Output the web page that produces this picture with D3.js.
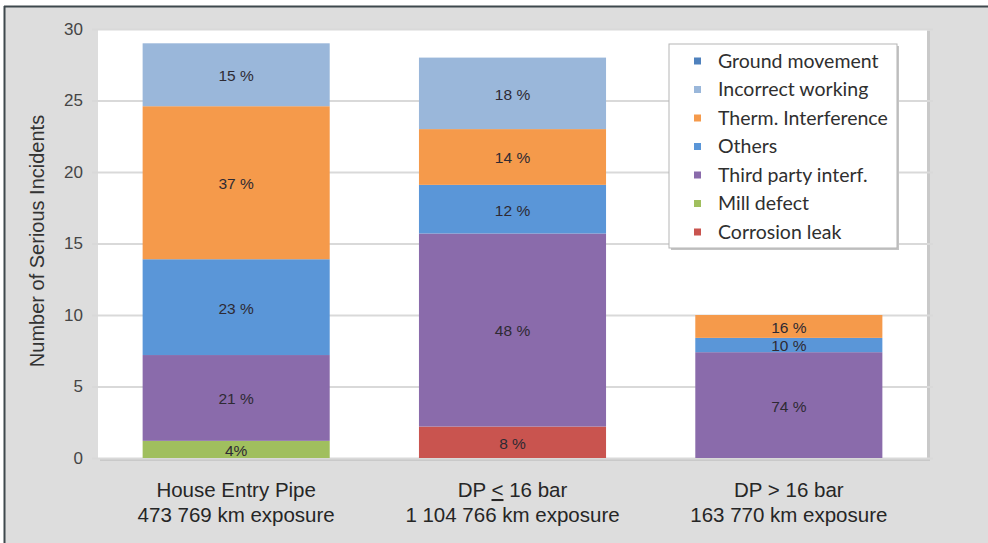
<!DOCTYPE html>
<html>
<head>
<meta charset="utf-8">
<script src="https://cdn.jsdelivr.net/npm/d3@7"></script>
<style>
  html, body { margin: 0; padding: 0; background: #ffffff; }
  svg { display: block; }
</style>
</head>
<body>
<svg id="chart" width="988" height="543"></svg>
<script>
// Pipe categories (two-line labels)
const categories = ["House Entry Pipe", "DP < 16 bar", "DP > 16 bar"];
const exposures = ["473 769 km exposure", "1 104 766 km exposure", "163 770 km exposure"];

// Incident causes, stacked from the bottom up
const causes = ["Corrosion leak", "Mill defect", "Third party interf.", "Others",
                "Therm. Interference", "Incorrect working", "Ground movement"];

// Number of serious incidents per cause, one value per category
const corrosionLeak     = [0,    2.2,  0];
const millDefect        = [1.2,  0,    0];
const thirdParty        = [6.0,  13.5, 7.4];
const others            = [6.7,  3.4,  1.0];
const thermInterference = [10.7, 3.9,  1.6];
const incorrectWorking  = [4.4,  5.0,  0];
const groundMovement    = [0,    0,    0];

// Share labels printed inside each segment
const corrosionLabels = [null, "8 %", null];
const millLabels      = ["4%", null, null];
const thirdLabels     = ["21 %", "48 %", "74 %"];
const othersLabels    = ["23 %", "12 %", "10 %"];
const thermLabels     = ["37 %", "14 %", "16 %"];
const incorrectLabels = ["15 %", "18 %", null];
const groundLabels    = [null, null, null];

const yTicks = [0, 5, 10, 15, 20, 25, 30];

const seriesValues = [corrosionLeak, millDefect, thirdParty, others,
                      thermInterference, incorrectWorking, groundMovement];
const seriesLabels = [corrosionLabels, millLabels, thirdLabels, othersLabels,
                      thermLabels, incorrectLabels, groundLabels];
const colors = ["#c9544f", "#a0bf5e", "#8a6bab", "#5a96d8", "#f59a4b", "#9ab7da", "#4f81bd"];

const svg = d3.select("#chart");
const W = 988, H = 543;
const plot = { left: 98, right: 927, top: 29, bottom: 458 };
const sans = "Liberation Sans, Arial, sans-serif";

// Frame: light grey panel with a dark top/left rule
svg.append("rect").attr("x", 0).attr("y", 0).attr("width", W).attr("height", H).attr("fill", "#ffffff");
svg.append("rect").attr("x", 5).attr("y", 7).attr("width", W - 5).attr("height", H - 7).attr("fill", "#dddddd");
svg.append("line").attr("x1", 4).attr("x2", W).attr("y1", 6.5).attr("y2", 6.5)
  .attr("stroke", "#3e484d").attr("stroke-width", 2);
svg.append("line").attr("x1", 4.5).attr("x2", 4.5).attr("y1", 6).attr("y2", H)
  .attr("stroke", "#3e484d").attr("stroke-width", 2);

// Plot area with a soft shadow
svg.append("rect").attr("x", plot.left + 2).attr("y", plot.top + 2)
  .attr("width", plot.right - plot.left + 1).attr("height", plot.bottom - plot.top + 1)
  .attr("fill", "#c9c9c9");
svg.append("rect").attr("x", plot.left).attr("y", plot.top)
  .attr("width", plot.right - plot.left).attr("height", plot.bottom - plot.top)
  .attr("fill", "#ffffff");

const x = d3.scaleBand().domain(d3.range(categories.length))
  .range([plot.left, plot.right]).paddingInner(0.323).paddingOuter(0.1615);
const y = d3.scaleLinear().domain([0, 30]).range([plot.bottom, plot.top]);

// Gridlines and y axis
const yAxis = d3.axisLeft(y).tickValues(yTicks).tickSize(-(plot.right - plot.left) - 6).tickPadding(8);
const gy = svg.append("g").attr("transform", `translate(${plot.left},0)`).call(yAxis);
gy.select(".domain").remove();
gy.selectAll(".tick line").attr("stroke", "#d9d9d9").attr("stroke-width", 2)
  .attr("x1", -6);
gy.selectAll(".tick text").attr("x", -15)
  .attr("fill", "#454545").attr("font-family", sans).attr("font-size", 17);

// Stacked bars
const rows = categories.map((c, i) => {
  const r = { idx: i };
  causes.forEach((k, j) => { r[k] = seriesValues[j][i]; });
  return r;
});
const stacked = d3.stack().keys(causes)(rows);

const layers = svg.append("g").selectAll("g").data(stacked).join("g")
  .attr("fill", (d, j) => colors[j]);
layers.selectAll("rect").data(d => d.filter(s => s[1] - s[0] > 0)).join("rect")
  .attr("x", d => x(d.data.idx))
  .attr("width", x.bandwidth())
  .attr("y", d => y(d[1]))
  .attr("height", d => y(d[0]) - y(d[1]));

// Segment share labels
const labelG = svg.append("g")
  .attr("font-family", sans).attr("font-size", 15.5)
  .attr("text-anchor", "middle").attr("fill", "#2e2a33");
stacked.forEach((layer, j) => {
  layer.forEach((seg, i) => {
    const txt = seriesLabels[j][i];
    if (!txt || seg[1] - seg[0] <= 0) return;
    labelG.append("text")
      .attr("x", x(i) + x.bandwidth() / 2)
      .attr("y", y((seg[0] + seg[1]) / 2) + 1)
      .attr("dy", "0.35em")
      .text(txt);
  });
});

// Category labels below the axis
const xl = svg.append("g")
  .attr("font-family", sans).attr("font-size", 20.5)
  .attr("text-anchor", "middle").attr("fill", "#262626");
categories.forEach((c, i) => {
  const cx = x(i) + x.bandwidth() / 2;
  const t = xl.append("text").attr("x", cx).attr("y", 497);
  if (c.includes("<")) {
    const parts = c.split("<");
    t.append("tspan").text(parts[0]);
    t.append("tspan").attr("text-decoration", "underline").text("<");
    t.append("tspan").text(parts[1]);
  } else {
    t.text(c);
  }
  xl.append("text").attr("x", cx).attr("y", 522).text(exposures[i]);
});

// Y axis title
svg.append("text")
  .attr("transform", `translate(44,241) rotate(-90)`)
  .attr("text-anchor", "middle")
  .attr("font-family", sans).attr("font-size", 20)
  .attr("fill", "#333333")
  .text("Number of Serious Incidents");

// Legend (top entry = top of stack)
const lg = { x: 669, y: 44, w: 228, h: 204 };
svg.append("rect").attr("x", lg.x + 2).attr("y", lg.y + 2).attr("width", lg.w).attr("height", lg.h)
  .attr("fill", "#c4c4c4");
svg.append("rect").attr("x", lg.x).attr("y", lg.y).attr("width", lg.w).attr("height", lg.h)
  .attr("fill", "#ffffff").attr("stroke", "#b5b5b5").attr("stroke-width", 1);
const legendOrder = d3.range(causes.length).reverse();
const ly = d3.scalePoint().domain(legendOrder).range([lg.y + 17, lg.y + 188]);
const items = svg.append("g").selectAll("g").data(legendOrder).join("g")
  .attr("transform", j => `translate(${lg.x},${ly(j)})`);
items.append("rect").attr("x", 25).attr("y", -3.5).attr("width", 7).attr("height", 7)
  .attr("fill", j => colors[j]);
items.append("text").attr("x", 49).attr("dy", "0.35em")
  .attr("font-family", "Lato, 'Open Sans', sans-serif").attr("font-size", 19.5)
  .attr("fill", "#2f2f2f")
  .text(j => causes[j]);
</script>
</body>
</html>
